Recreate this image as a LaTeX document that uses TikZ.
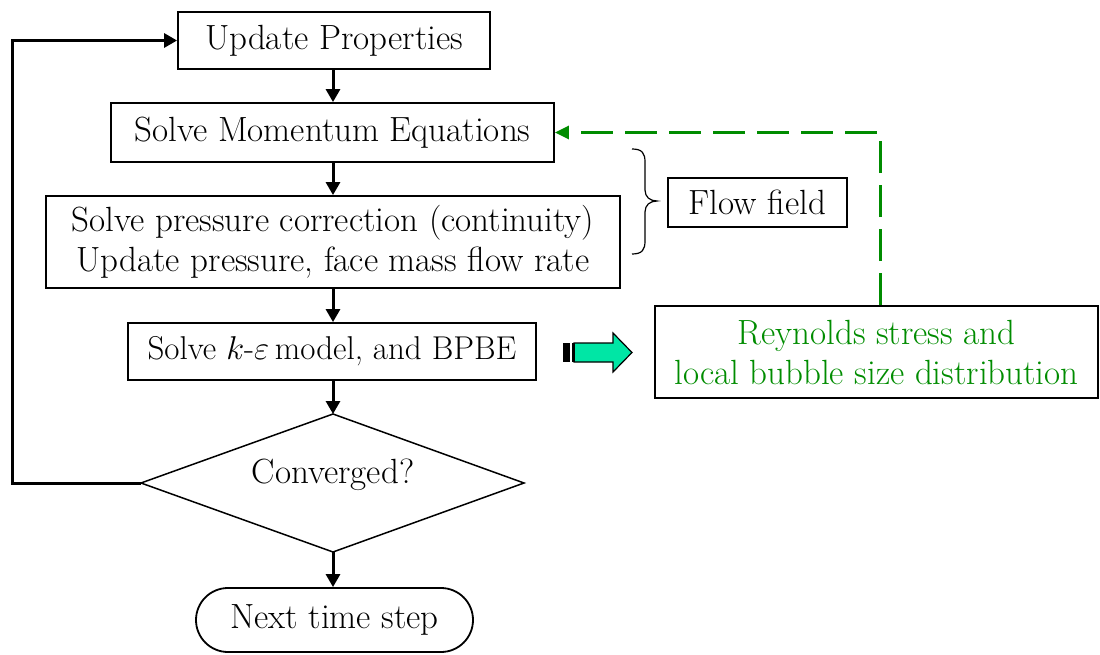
\RequirePackage{fix-cm}
\documentclass[tikz,border=0pt]{standalone}
\usetikzlibrary{arrows.meta,calc}
\definecolor{dgreen}{RGB}{0,140,0}
\definecolor{mint}{RGB}{0,230,165}
\begin{document}
\begin{tikzpicture}[x=1pt,y=-1pt,
  every node/.style={font=\fontsize{35}{40}\selectfont},
  procbox/.style={draw,line width=1.8pt,inner sep=0pt,align=center},
  flowarrow/.style={line width=3pt,-{Triangle[length=13pt,width=14pt]}},
  feedback/.style={draw=dgreen,line width=3pt,dash pattern=on 32pt off 12pt,
     -{Triangle[length=14pt,width=13pt]}},
  braceline/.style={line width=1.2pt}]
\useasboundingbox (0,0) rectangle (1100,655);

% process boxes
\node[procbox,minimum width=312pt,minimum height=57pt] (up) at (334,40.5) {Update Properties};
\node[procbox,minimum width=443pt,minimum height=59pt] (mom) at (332.5,132.5) {Solve Momentum Equations};
\node[procbox,minimum width=574pt,minimum height=92pt] (pres) at (333,242)
  {Solve pressure correction (continuity)\\Update pressure, face mass flow rate};
\node[procbox,minimum width=408pt,minimum height=57pt,font=\fontsize{33}{40}\selectfont] (ke) at (332,351.5)
  {Solve $k$-$\varepsilon$\,model, and BPBE};

% decision diamond
\coordinate (dT) at (333,414);
\coordinate (dR) at (524,483);
\coordinate (dB) at (333,552);
\coordinate (dL) at (141,483);
\draw[line width=1.5pt,line join=miter] (dT) -- (dR) -- (dB) -- (dL) -- cycle;
\node (conv) at (333,475) {Converged?};

% terminal
\node[procbox,rounded corners=32pt,minimum width=277pt,minimum height=64pt] (term) at (334.5,620) {Next time step};

% side boxes
\node[procbox,minimum width=179pt,minimum height=49pt] (flow) at (757.5,202.5) {Flow field};
\node[procbox,minimum width=443pt,minimum height=92pt,text=dgreen] (reyn) at (876.5,352)
  {Reynolds stress and\\local bubble size distribution};

% main flow arrows (vertical axis x = 333)
\coordinate (ax) at (333,0);
\draw[flowarrow] (up.south -| ax) -- (mom.north -| ax);
\draw[flowarrow] (mom.south -| ax) -- (pres.north -| ax);
\draw[flowarrow] (pres.south -| ax) -- (ke.north -| ax);
\draw[flowarrow] (ke.south -| ax) -- (dT);
\draw[flowarrow] (dB) -- (term.north -| ax);

% loop back
\coordinate (lb) at (12,483);
\coordinate (lt) at (12,40.5);
\draw[flowarrow,line join=miter] (dL) -- (lb) -- (lt) -- (up.west);

% green feedback
\coordinate (gc) at (880,132.5);
\draw[feedback] (reyn.north -| gc) -- (gc) -- (mom.east);

% brace
\draw[braceline] (632,149) .. controls (642,149) and (645,153) .. (645,162)
  -- (645,190) .. controls (645,197) and (650,201) .. (657,201)
  .. controls (650,201) and (645,205) .. (645,212)
  -- (645,241) .. controls (645,250) and (642,254) .. (632,254);

% striped block arrow
\filldraw[fill=mint,draw=black,line width=1.2pt,line join=miter]
  (574,343) -- (613,343) -- (613,333) -- (632,352.5) -- (613,372) -- (613,362) -- (574,362) -- cycle;
\fill (563,343) rectangle (570,362);
\fill (572,343) rectangle (574.5,362);
\end{tikzpicture}
\end{document}
